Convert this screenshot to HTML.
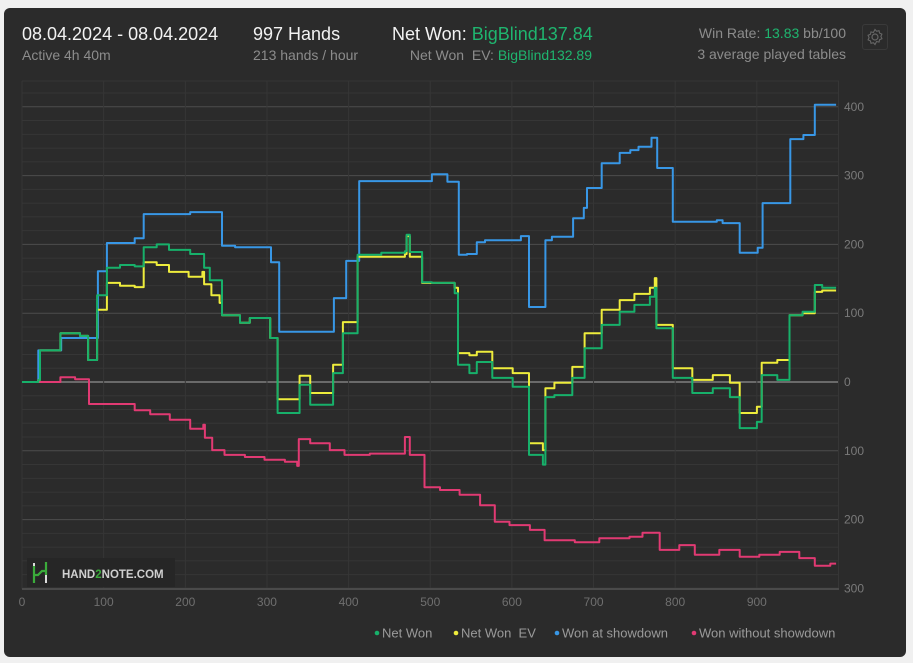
<!DOCTYPE html>
<html><head><meta charset="utf-8">
<style>
body{margin:0;background:#f0f0f0;width:913px;height:663px;overflow:hidden;font-family:"Liberation Sans",sans-serif;}
#card{position:absolute;left:4px;top:8px;width:902px;height:649px;background:#2b2b2b;border-radius:6px;}
.t{position:absolute;white-space:nowrap;}
.big{font-size:18px;color:#f2f2f2;}
.sm{font-size:14px;color:#8c8c8c;}
.g{color:#1fb56f;}
</style></head><body>
<div id="card"></div>
<div class="t big" style="left:22px;top:24px">08.04.2024 - 08.04.2024</div>
<div class="t sm" style="left:22px;top:47px">Active 4h 40m</div>
<div class="t big" style="left:253px;top:24px">997 Hands</div>
<div class="t sm" style="left:253px;top:47px">213 hands / hour</div>
<div class="t big" style="left:392px;top:24px">Net Won: <span class="g">BigBlind137.84</span></div>
<div class="t sm" style="right:321px;top:47px">Net Won&nbsp; EV: <span class="g">BigBlind132.89</span></div>
<div class="t sm" style="right:67px;top:25px">Win Rate: <span class="g">13.83</span> bb/100</div>
<div class="t sm" style="right:67px;top:46px">3 average played tables</div>
<svg id="chart" width="913" height="663" style="position:absolute;left:0;top:0"></svg>
<div style="position:absolute;left:862px;top:24px;width:24px;height:24px;border:1px solid #3a3a3a;border-radius:3px">
<svg width="24" height="24" viewBox="0 0 24 24"><circle cx="12" cy="12" r="3" fill="none" stroke="#666" stroke-width="1.2"/><path d="M12 4.5l1.6 1.8 2.4-.6.6 2.4 2.3 1-1 2.3 1 2.3-2.3 1-.6 2.4-2.4-.6L12 19.5l-1.6-1.8-2.4.6-.6-2.4-2.3-1 1-2.3-1-2.3 2.3-1 .6-2.4 2.4.6z" fill="none" stroke="#666" stroke-width="1.1"/></svg></div>
<script>
const blueH=[0,20,48,93,104,138,149,206,245,261,305,315,382,397,413,502,521,535,545,557,567,611,621,641,649,675,688,692,710,732,745,755,771,778,797,851,858,879,901,907,941,957,971];
const blueV=[0,46,64,161,202,209,244,247,198,196,174,73,122,176,292,302,291,185,186,203,206,212,109,206,211,238,253,282,318,333,337,342,355,311,233,235,231,188,195,260,353,359,403];
const greenH=[0,20,22,47,71,81,92,104,120,138,149,165,180,206,223,230,245,267,279,304,313,340,353,381,393,411,440,469,471,475,490,502,530,534,548,557,576,601,621,638,641,652,674,689,710,732,750,769,775,777,797,821,846,867,879,900,906,925,940,956,971,980];
const greenV=[0,3,46,71,67,32,126,166,170,168,196,200,192,186,166,148,97,86,93,64,-45,-4,-33,13,71,185,188,190,214,189,145,144,129,25,13,29,6,-7,-106,-120,-22,-19,6,49,83,102,112,124,137,78,6,-16,-9,-22,-67,-58,10,3,97,102,141,137];
const yellowH=[0,20,22,47,71,81,92,104,120,138,149,165,180,204,221,223,232,242,245,267,279,304,313,340,353,381,393,411,440,469,471,475,490,530,534,548,557,576,601,621,638,641,652,674,689,710,732,750,769,775,777,797,821,846,867,879,900,906,925,940,956,971,980];
const yellowV=[0,3,46,71,67,32,105,144,140,138,174,170,160,153,160,142,126,115,97,86,93,64,-25,9,-16,25,87,182,182,186,212,182,144,137,42,39,44,20,13,-89,-99,-9,-1,22,71,105,119,128,137,151,83,20,3,10,-1,-45,-36,28,32,97,100,131,133];
const pinkH=[0,13,47,65,82,138,157,181,206,222,224,233,248,273,297,322,337,339,353,377,395,426,469,475,493,512,536,561,579,597,622,640,677,707,744,760,781,805,824,854,879,903,928,952,971,990];
const pinkV=[0,0,7,4,-32,-41,-47,-55,-68,-62,-81,-99,-106,-109,-113,-116,-122,-83,-89,-99,-106,-104,-80,-106,-153,-157,-164,-179,-203,-208,-215,-230,-233,-227,-225,-219,-244,-237,-251,-244,-254,-251,-247,-256,-267,-264];
const xTicks=[0,100,200,300,400,500,600,700,800,900];
const yTicks=[400,300,200,100,0,-100,-200,-300];
const totalHands=997;
const X0=22,X1=839,Y0=81,Y1=589;
const sx=h=>X0+h*0.8165;
const sy=v=>382-v*0.688;
const svg=document.getElementById('chart');
const NS='http://www.w3.org/2000/svg';
function mk(tag,attrs){const e=document.createElementNS(NS,tag);for(const k in attrs)e.setAttribute(k,attrs[k]);svg.appendChild(e);return e;}
for(let v=-300;v<=420;v+=20){
  const major=v%100===0;
  const l=mk('line',{x1:X0,x2:X1,y1:sy(v),y2:sy(v),stroke:v===0?'#808080':(major?'#4d4d4d':'#363636'),'stroke-width':v===0?1.5:1});
  
  
}
const plotTop=mk('line',{x1:X0,x2:X1,y1:Y0,y2:Y0,stroke:'#363636'});


for(let h=0;h<=1000;h+=100){
  const l=mk('line',{x1:sx(h),x2:sx(h),y1:Y0,y2:Y1,stroke:'#363636'});
  
  
}
const ax=mk('line',{x1:X0,x2:X1,y1:Y1,y2:Y1,stroke:'#4a4a4a','stroke-width':2});


xTicks.forEach(t=>{
  const e=mk('text',{x:sx(t),y:606,fill:'#6f6f6f','font-size':12,'text-anchor':'middle','font-family':'Liberation Sans, sans-serif'});
  e.textContent=t;
  
  
});
yTicks.forEach(t=>{
  const e=mk('text',{x:844,y:sy(t)+4,fill:'#7a7a7a','font-size':12,'font-family':'Liberation Sans, sans-serif'});
  e.textContent=Math.abs(t);
  
  
});
const wm=mk('rect',{x:27,y:558,width:148,height:29,fill:'#262626'});


const wmi=mk('path',{d:'M34 563v7M46 575v8',stroke:'#ddd','stroke-width':2,fill:'none'});


const wmg=mk('path',{d:'M34 566v17M34 575h4l4-4h4M46 562v13',stroke:'#3bab3b','stroke-width':2.2,fill:'none'});


const wt=mk('text',{x:62,y:578,fill:'#d0d0d0','font-size':11.5,'font-weight':'bold','font-family':'Liberation Sans, sans-serif'});
wt.innerHTML='HAND<tspan fill="#3bab3b">2</tspan>NOTE.COM';


function stepPath(H,V){
  let d='M'+sx(H[0])+' '+sy(V[0]);
  for(let i=1;i<H.length;i++){d+=' H'+sx(H[i]).toFixed(1)+' V'+sy(V[i]).toFixed(1);}
  d+=' H'+sx(totalHands).toFixed(1);
  return d;
}
const series=[[pinkH,pinkV,'#e13a73','won-without-showdown-line'],[blueH,blueV,'#3897e6','won-at-showdown-line'],[yellowH,yellowV,'#eeec3c','net-won-ev-line'],[greenH,greenV,'#17b06a','net-won-line']];
series.forEach(s=>{
  const p=mk('path',{d:stepPath(s[0],s[1]),stroke:s[2],'stroke-width':2,fill:'none','stroke-linejoin':'round'});
  
  
});
const leg=[['Net Won','#17b06a',382],['Net Won\u00a0 EV','#eeec3c',461],['Won at showdown','#3897e6',562],['Won without showdown','#e13a73',699]];
leg.forEach(l=>{
  const c=mk('circle',{cx:l[2]-5,cy:633,r:2.3,fill:l[1]});
  
  
  const t=mk('text',{x:l[2],y:637.5,fill:'#9a9a9a','font-size':13,'font-family':'Liberation Sans, sans-serif'});
  t.textContent=l[0];
  
  
});
</script>
</body></html>
